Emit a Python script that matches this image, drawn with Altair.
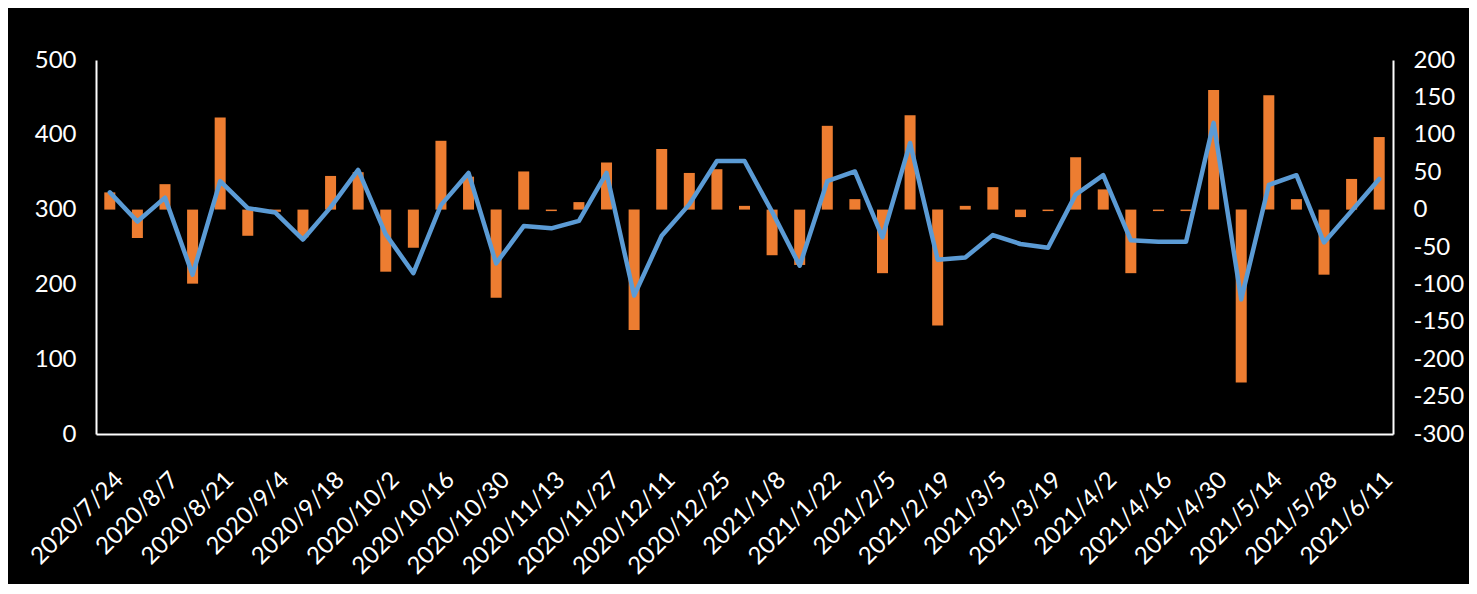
import altair as alt
import pandas as pd

dates = [
    "2020/7/24", "2020/7/31", "2020/8/7", "2020/8/14", "2020/8/21", "2020/8/28",
    "2020/9/4", "2020/9/11", "2020/9/18", "2020/9/25", "2020/10/2", "2020/10/9",
    "2020/10/16", "2020/10/23", "2020/10/30", "2020/11/6", "2020/11/13", "2020/11/20",
    "2020/11/27", "2020/12/4", "2020/12/11", "2020/12/18", "2020/12/25", "2021/1/1",
    "2021/1/8", "2021/1/15", "2021/1/22", "2021/1/29", "2021/2/5", "2021/2/12",
    "2021/2/19", "2021/2/26", "2021/3/5", "2021/3/12", "2021/3/19", "2021/3/26",
    "2021/4/2", "2021/4/9", "2021/4/16", "2021/4/23", "2021/4/30", "2021/5/7",
    "2021/5/14", "2021/5/21", "2021/5/28", "2021/6/4", "2021/6/11",
]

# orange bars, right axis
bar_values = [
    23, -38, 34, -99, 123, -35, -3, -37, 45, 50, -83, -51,
    92, 44, -118, 51, -2, 10, 63, -161, 81, 49, 54, 5,
    -61, -74, 112, 14, -85, 126, -155, 5, 30, -10, -2, 70,
    27, -85, -2, -2, 160, -231, 153, 14, -87, 41, 97,
]

# blue line, left axis
line_values = [
    323, 284, 316, 213, 338, 302, 296, 260, 303, 353, 267, 215,
    306, 349, 228, 278, 275, 285, 349, 185, 265, 307, 365, 365,
    297, 225, 338, 351, 263, 389, 233, 236, 266, 254, 249, 320,
    346, 259, 257, 257, 416, 180, 333, 346, 256, 298, 341,
]

left_ticks = [0, 100, 200, 300, 400, 500]
right_ticks = [-300, -250, -200, -150, -100, -50, 0, 50, 100, 150, 200]

df = pd.DataFrame({"date": dates, "change": bar_values, "level": line_values})

FONT = "Lato"
FS = 24

x_enc = alt.X(
    "date:N",
    sort=dates,
    scale=alt.Scale(paddingInner=0, paddingOuter=0),
    axis=alt.Axis(
        values=dates[::2],
        labelAngle=-45,
        labelAlign="right",
        labelBaseline="middle",
        labelOffset=10,
        labelPadding=42,
        ticks=False,
        grid=False,
        domainColor="white",
        domainWidth=2,
        labelColor="white",
        labelFont=FONT,
        labelFontSize=FS,
        labelOverlap=False,
        title=None,
    ),
)

bars = alt.Chart(df).mark_bar(size=11, color="#ED7D31").encode(
    x=x_enc,
    y=alt.Y(
        "change:Q",
        scale=alt.Scale(domain=[-300, 200], nice=False, zero=True),
        axis=alt.Axis(
            orient="right",
            values=right_ticks,
            labelExpr="'' + datum.value",
            ticks=False,
            grid=False,
            domainColor="white",
            domainWidth=2,
            labelColor="white",
            labelFont=FONT,
            labelFontSize=FS,
            labelPadding=20,
            labelOverlap=False,
            title=None,
        ),
    ),
)

line = alt.Chart(df).mark_line(
    color="#5B9BD5", strokeWidth=4.5, strokeJoin="round", strokeCap="round"
).encode(
    x=x_enc,
    y=alt.Y(
        "level:Q",
        scale=alt.Scale(domain=[0, 500], nice=False),
        axis=alt.Axis(
            orient="left",
            values=left_ticks,
            ticks=False,
            grid=False,
            domainColor="white",
            domainWidth=2,
            labelColor="white",
            labelFont=FONT,
            labelFontSize=FS,
            labelPadding=20,
            labelOverlap=False,
            title=None,
        ),
    ),
)

chart = (
    alt.layer(bars, line)
    .resolve_scale(y="independent")
    .properties(
        width=1297,
        height=374,
        autosize=alt.AutoSizeParams(type="none"),
        padding={"left": 88, "top": 52, "right": 76, "bottom": 150},
        background="black",
    )
    .configure_view(strokeWidth=0)
)

chart.save("out.html", embed_options={"renderer": "svg", "actions": False})
